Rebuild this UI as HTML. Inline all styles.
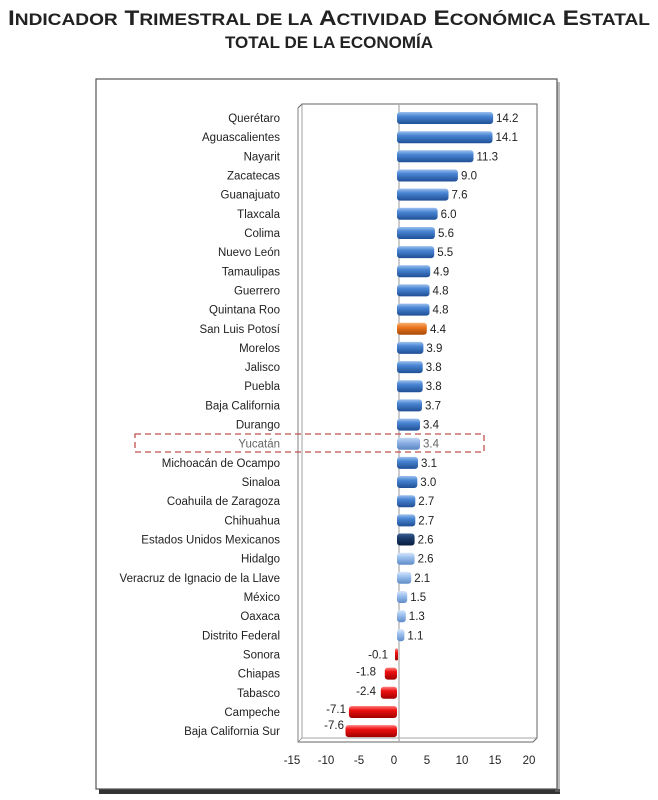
<!DOCTYPE html>
<html><head><meta charset="utf-8"><style>
body{margin:0;background:#fff;width:658px;height:800px;overflow:hidden}
svg{display:block}
text{font-family:"Liberation Sans",sans-serif}
</style></head><body>
<svg width="658" height="800" xmlns="http://www.w3.org/2000/svg">
<defs>
<linearGradient id="b" x1="0" y1="0" x2="0" y2="1"><stop offset="0" stop-color="#9cc0ee"/><stop offset="0.35" stop-color="#4a86d4"/><stop offset="1" stop-color="#1f4f95"/></linearGradient>
<linearGradient id="lb" x1="0" y1="0" x2="0" y2="1"><stop offset="0" stop-color="#d6e6fa"/><stop offset="0.4" stop-color="#9cc0ee"/><stop offset="1" stop-color="#5f8cc8"/></linearGradient>
<linearGradient id="yb" x1="0" y1="0" x2="0" y2="1"><stop offset="0" stop-color="#c4d8f4"/><stop offset="0.4" stop-color="#8fb3e6"/><stop offset="1" stop-color="#5a86c2"/></linearGradient>
<linearGradient id="db" x1="0" y1="0" x2="0" y2="1"><stop offset="0" stop-color="#3a5f93"/><stop offset="0.4" stop-color="#1a3a6a"/><stop offset="1" stop-color="#0b1f40"/></linearGradient>
<linearGradient id="o" x1="0" y1="0" x2="0" y2="1"><stop offset="0" stop-color="#f8b070"/><stop offset="0.4" stop-color="#e8731c"/><stop offset="1" stop-color="#a54a0a"/></linearGradient>
<linearGradient id="r" x1="0" y1="0" x2="0" y2="1"><stop offset="0" stop-color="#ff8080"/><stop offset="0.35" stop-color="#ee1111"/><stop offset="1" stop-color="#a00000"/></linearGradient>
</defs>
<text x="8" y="25" font-size="21" font-weight="bold" fill="#222" textLength="642" lengthAdjust="spacingAndGlyphs">I<tspan font-size="16.5">NDICADOR</tspan> T<tspan font-size="16.5">RIMESTRAL DE LA</tspan> A<tspan font-size="16.5">CTIVIDAD</tspan> E<tspan font-size="16.5">CONÓMICA</tspan> E<tspan font-size="16.5">STATAL</tspan></text>
<text x="329" y="48" text-anchor="middle" font-size="17" font-weight="bold" fill="#222">TOTAL DE LA ECONOMÍA</text>
<rect x="99" y="789" width="461" height="5" fill="#333"/>
<rect x="555" y="82" width="5" height="710" fill="#777" opacity="0.5"/>
<rect x="96" y="79" width="461" height="710" fill="#fff" stroke="#555" stroke-width="1.2"/>
<path d="M298 108 L302 104 L537 104 L537 738 L533 742 L298 742 Z" fill="#fff" stroke="#666" stroke-width="1"/>
<path d="M298 108 L298 742 M302 104 L302 738 L537 738 M298 742 L302 738" fill="none" stroke="#888" stroke-width="0.8"/>
<line x1="399" y1="104" x2="399" y2="742" stroke="#aaa" stroke-width="1.2"/>
<g font-size="11.5" fill="#222">
<text x="292" y="764" text-anchor="middle">-15</text><text x="326" y="764" text-anchor="middle">-10</text><text x="359" y="764" text-anchor="middle">-5</text><text x="394" y="764" text-anchor="middle">0</text><text x="427" y="764" text-anchor="middle">5</text><text x="462" y="764" text-anchor="middle">10</text><text x="495" y="764" text-anchor="middle">15</text><text x="529" y="764" text-anchor="middle">20</text>
</g>
<rect x="135" y="434" width="349" height="18" fill="none" stroke="#c0504d" stroke-width="1.3" stroke-dasharray="6,4"/>
<g font-size="11.5" fill="#222" stroke-width="0.4">
<g transform="translate(0,118)"><text x="280" y="4" text-anchor="end">Querétaro</text><rect x="397" y="-6" width="96.1" height="12" rx="3" fill="url(#b)"/><text x="496" y="4">14.2</text></g>
<g transform="translate(0,137.2)"><text x="280" y="4" text-anchor="end">Aguascalientes</text><rect x="397" y="-6" width="95.5" height="12" rx="3" fill="url(#b)"/><text x="495.5" y="4">14.1</text></g>
<g transform="translate(0,156.3)"><text x="280" y="4" text-anchor="end">Nayarit</text><rect x="397" y="-6" width="76.5" height="12" rx="3" fill="url(#b)"/><text x="476.5" y="4">11.3</text></g>
<g transform="translate(0,175.5)"><text x="280" y="4" text-anchor="end">Zacatecas</text><rect x="397" y="-6" width="60.9" height="12" rx="3" fill="url(#b)"/><text x="461" y="4">9.0</text></g>
<g transform="translate(0,194.6)"><text x="280" y="4" text-anchor="end">Guanajuato</text><rect x="397" y="-6" width="51.5" height="12" rx="3" fill="url(#b)"/><text x="451.5" y="4">7.6</text></g>
<g transform="translate(0,213.8)"><text x="280" y="4" text-anchor="end">Tlaxcala</text><rect x="397" y="-6" width="40.6" height="12" rx="3" fill="url(#b)"/><text x="440.6" y="4">6.0</text></g>
<g transform="translate(0,233)"><text x="280" y="4" text-anchor="end">Colima</text><rect x="397" y="-6" width="37.9" height="12" rx="3" fill="url(#b)"/><text x="438" y="4">5.6</text></g>
<g transform="translate(0,252.1)"><text x="280" y="4" text-anchor="end">Nuevo León</text><rect x="397" y="-6" width="37.2" height="12" rx="3" fill="url(#b)"/><text x="437.2" y="4">5.5</text></g>
<g transform="translate(0,271.3)"><text x="280" y="4" text-anchor="end">Tamaulipas</text><rect x="397" y="-6" width="33.2" height="12" rx="3" fill="url(#b)"/><text x="433.2" y="4">4.9</text></g>
<g transform="translate(0,290.4)"><text x="280" y="4" text-anchor="end">Guerrero</text><rect x="397" y="-6" width="32.5" height="12" rx="3" fill="url(#b)"/><text x="432.5" y="4">4.8</text></g>
<g transform="translate(0,309.6)"><text x="280" y="4" text-anchor="end">Quintana Roo</text><rect x="397" y="-6" width="32.5" height="12" rx="3" fill="url(#b)"/><text x="432.5" y="4">4.8</text></g>
<g transform="translate(0,328.8)"><text x="280" y="4" text-anchor="end">San Luis Potosí</text><rect x="397" y="-6" width="29.8" height="12" rx="3" fill="url(#o)"/><text x="430" y="4">4.4</text></g>
<g transform="translate(0,347.9)"><text x="280" y="4" text-anchor="end">Morelos</text><rect x="397" y="-6" width="26.4" height="12" rx="3" fill="url(#b)"/><text x="426.4" y="4">3.9</text></g>
<g transform="translate(0,367.1)"><text x="280" y="4" text-anchor="end">Jalisco</text><rect x="397" y="-6" width="25.7" height="12" rx="3" fill="url(#b)"/><text x="425.7" y="4">3.8</text></g>
<g transform="translate(0,386.2)"><text x="280" y="4" text-anchor="end">Puebla</text><rect x="397" y="-6" width="25.7" height="12" rx="3" fill="url(#b)"/><text x="425.7" y="4">3.8</text></g>
<g transform="translate(0,405.4)"><text x="280" y="4" text-anchor="end">Baja California</text><rect x="397" y="-6" width="25" height="12" rx="3" fill="url(#b)"/><text x="425" y="4">3.7</text></g>
<g transform="translate(0,424.6)"><text x="280" y="4" text-anchor="end">Durango</text><rect x="397" y="-6" width="23" height="12" rx="3" fill="url(#b)"/><text x="423" y="4">3.4</text></g>
<g transform="translate(0,443.7)" fill="#666"><text x="280" y="4" text-anchor="end">Yucatán</text><rect x="397" y="-6" width="23" height="12" rx="3" fill="url(#yb)"/><text x="423" y="4">3.4</text></g>
<g transform="translate(0,462.9)"><text x="280" y="4" text-anchor="end">Michoacán de Ocampo</text><rect x="397" y="-6" width="21" height="12" rx="3" fill="url(#b)"/><text x="421" y="4">3.1</text></g>
<g transform="translate(0,482)"><text x="280" y="4" text-anchor="end">Sinaloa</text><rect x="397" y="-6" width="20.3" height="12" rx="3" fill="url(#b)"/><text x="420.3" y="4">3.0</text></g>
<g transform="translate(0,501.2)"><text x="280" y="4" text-anchor="end">Coahuila de Zaragoza</text><rect x="397" y="-6" width="18.3" height="12" rx="3" fill="url(#b)"/><text x="418.3" y="4">2.7</text></g>
<g transform="translate(0,520.4)"><text x="280" y="4" text-anchor="end">Chihuahua</text><rect x="397" y="-6" width="18.3" height="12" rx="3" fill="url(#b)"/><text x="418.3" y="4">2.7</text></g>
<g transform="translate(0,539.5)"><text x="280" y="4" text-anchor="end">Estados Unidos  Mexicanos</text><rect x="397" y="-6" width="17.6" height="12" rx="3" fill="url(#db)"/><text x="417.6" y="4">2.6</text></g>
<g transform="translate(0,558.7)"><text x="280" y="4" text-anchor="end">Hidalgo</text><rect x="397" y="-6" width="17.6" height="12" rx="3" fill="url(#lb)"/><text x="417.6" y="4">2.6</text></g>
<g transform="translate(0,577.8)"><text x="280" y="4" text-anchor="end">Veracruz de Ignacio de la Llave</text><rect x="397" y="-6" width="14.2" height="12" rx="3" fill="url(#lb)"/><text x="414.2" y="4">2.1</text></g>
<g transform="translate(0,597)"><text x="280" y="4" text-anchor="end">México</text><rect x="397" y="-6" width="10.2" height="12" rx="3" fill="url(#lb)"/><text x="410.2" y="4">1.5</text></g>
<g transform="translate(0,616.2)"><text x="280" y="4" text-anchor="end">Oaxaca</text><rect x="397" y="-6" width="8.8" height="12" rx="3" fill="url(#lb)"/><text x="408.8" y="4">1.3</text></g>
<g transform="translate(0,635.3)"><text x="280" y="4" text-anchor="end">Distrito Federal</text><rect x="397" y="-6" width="7.4" height="12" rx="3" fill="url(#lb)"/><text x="407.4" y="4">1.1</text></g>
<g transform="translate(0,654.5)"><text x="280" y="4" text-anchor="end">Sonora</text><rect x="395" y="-6" width="3" height="12" rx="1.5" fill="url(#r)"/><text x="388" y="4" text-anchor="end">-0.1</text></g>
<g transform="translate(0,673.6)"><text x="280" y="4" text-anchor="end">Chiapas</text><rect x="384.8" y="-6" width="12.2" height="12" rx="3" fill="url(#r)"/><text x="376" y="2" text-anchor="end">-1.8</text></g>
<g transform="translate(0,692.8)"><text x="280" y="4" text-anchor="end">Tabasco</text><rect x="380.8" y="-6" width="16.2" height="12" rx="3" fill="url(#r)"/><text x="376" y="2" text-anchor="end">-2.4</text></g>
<g transform="translate(0,712)"><text x="280" y="4" text-anchor="end">Campeche</text><rect x="348.9" y="-6" width="48.1" height="12" rx="3" fill="url(#r)"/><text x="346" y="1" text-anchor="end">-7.1</text></g>
<g transform="translate(0,731.1)"><text x="280" y="4" text-anchor="end">Baja California Sur</text><rect x="345.5" y="-6" width="51.5" height="12" rx="3" fill="url(#r)"/><text x="344" y="-2" text-anchor="end">-7.6</text></g>
</g>
</svg>
</body></html>
